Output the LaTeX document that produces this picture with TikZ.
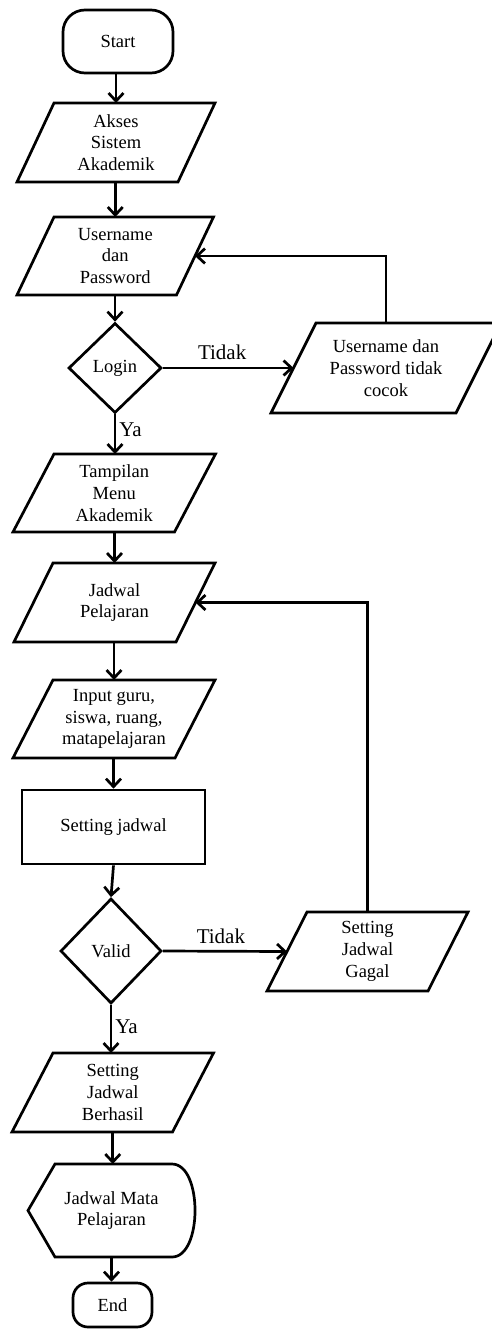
\documentclass[tikz,border=0pt]{standalone}
\usepackage{fontspec}
\setmainfont{Liberation Serif}
\usetikzlibrary{arrows.meta,shapes.geometric}
\begin{document}
\begin{tikzpicture}[x=1pt,y=-1pt,
  line width=2.7pt,
  every node/.style={font=\fontsize{18.5}{21.7}\selectfont, align=center, inner sep=0pt},
  termbox/.style={draw, rounded corners=#1},
  procbox/.style={draw},
  decbox/.style={draw, diamond},
  iobox/.style 2 args={minimum width=#1, minimum height=#2, outer sep=0pt},
  flow/.style={-{Straight Barb[length=8pt,width=15pt]}},
  lbl/.style={font=\fontsize{21}{25}\selectfont}
]
\useasboundingbox (0,0) rectangle (491,1329);

% terminals, process and decisions
\node[termbox=22pt, minimum width=110pt, minimum height=63pt] (start) at (118,41.5) {Start};
\node[iobox={161pt}{79pt}] (akses) at (116,142.5) {Akses\\Sistem\\Akademik};
\node[iobox={159.5pt}{78pt}] (user) at (115.25,256) {Username\\dan\\Password};
\node[decbox, minimum width=93pt, minimum height=90pt] (login) at (115,368) {Login};
\node[iobox={185pt}{90pt}] (unp) at (386,368) {Username dan\\Password tidak\\cocok};
\node[iobox={161.5pt}{78pt}] (tampil) at (114.25,493) {Tampilan\\Menu\\Akademik};
\node[iobox={162pt}{79pt}] (jadwal) at (114.5,602.5) {Jadwal\\Pelajaran};
\node[iobox={162pt}{78pt}] (input) at (114,719) {Input guru,\\siswa, ruang,\\matapelajaran};
\node[procbox, minimum width=183pt, minimum height=74pt] (setting) at (113.5,827) {Setting jadwal};
\node[decbox, minimum width=101pt, minimum height=105pt] (valid) at (111,951) {Valid};
\node[iobox={161pt}{79pt}] (gagal) at (367.5,951.5) {Setting\\Jadwal\\Gagal};
\node[iobox={160.5pt}{79pt}] (berhasil) at (112.75,1092.5) {Setting\\Jadwal\\Berhasil};
\node[iobox={167pt}{93pt}] (disp) at (111.5,1210.5) {Jadwal Mata\\Pelajaran};
\node[termbox=15pt, minimum width=79pt, minimum height=44pt] (end) at (112.5,1305) {End};

% input/output parallelograms
\foreach \n/\s in {akses/18.5, user/18.5, unp/22.5, tampil/20.5, jadwal/19.5, input/20, gagal/20, berhasil/20.5}
  \draw ([xshift=\s]\n.north west) -- ([xshift=\s]\n.north east)
     -- ([xshift=-\s]\n.south east) -- ([xshift=-\s]\n.south west) -- cycle;

% display symbol
\draw (disp.west) -- ([xshift=27]disp.north west) -- ([xshift=-23]disp.north east)
  .. controls +(30.7,0) and +(30.7,0) .. ([xshift=-23]disp.south east)
  -- ([xshift=27]disp.south west) -- cycle;

% main flow
\draw[flow] (akses.north |- start.south) -- (akses.north);
\draw[flow] (user.north |- akses.south) -- (user.north);
\draw[flow] (login.north |- user.south) -- (login.north);
\draw[flow] (login.south) -- node[lbl, right=3pt, pos=0.4] {Ya} (tampil.north -| login.south);
\draw[flow] (jadwal.north |- tampil.south) -- (jadwal.north);
\draw[flow] (input.north |- jadwal.south) -- (input.north);
\draw[flow] (setting.north |- input.south) -- (setting.north);
\draw[flow] (setting.south) -- (valid.north);
\draw[flow] (valid.south) -- node[lbl, right=3pt, pos=0.46] {Ya} (berhasil.north -| valid.south);
\draw[flow] (berhasil.south) -- (disp.north -| berhasil.south);
\draw[flow] (disp.south) -- (end.north -| disp.south);

% rejected branches and loops back
\draw[flow] (login.east) -- node[lbl, above=7pt, xshift=-6pt] {Tidak} (unp.west);
\draw[flow] (unp.north) |- (user.east);
\draw[flow] (valid.east) -- node[lbl, above=6pt, xshift=-4pt] {Tidak} (gagal.west);
\draw[flow] (gagal.north) |- (jadwal.east);
\end{tikzpicture}
\end{document}
